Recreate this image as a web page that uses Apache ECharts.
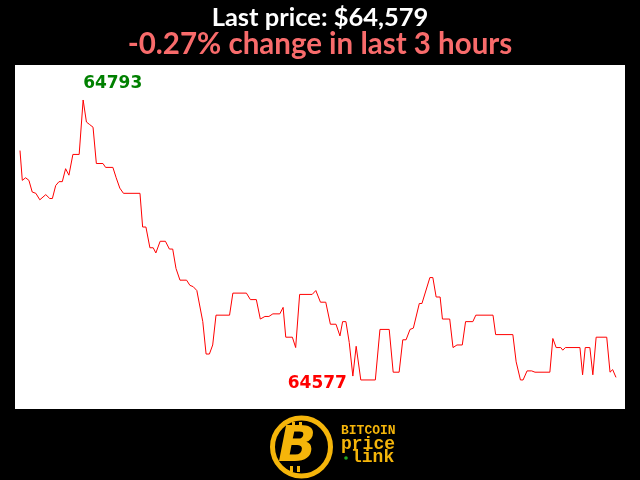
<!DOCTYPE html>
<html>
<head>
<meta charset="utf-8">
<script src="https://cdn.jsdelivr.net/npm/echarts@6/dist/echarts.min.js"></script>
<style>
html,body{margin:0;padding:0;background:#000;}
#chart{width:640px;height:480px;}
</style>
</head>
<body>
<div id="chart"></div>
<script>
// Minutes since start of the 3-hour window (vertices)
const minutes = [0,0.7,1.7,2.7,3.7,4.8,6.0,7.8,9.0,9.8,10.8,11.8,12.8,13.8,14.8,16.0,17.9,19.1,20.1,21.1,22.1,23.1,25.1,25.9,28.1,29.1,30.2,31.3,36.3,37.1,38.1,39.3,40.3,41.1,42.4,44.0,45.2,46.2,47.2,48.4,50.4,51.4,52.4,53.5,55.3,56.3,57.3,58.3,59.3,63.4,64.4,68.5,69.7,71.5,72.7,74.1,75.3,76.5,78.6,79.6,80.4,82.4,83.4,84.6,88.4,89.5,90.9,92.5,93.9,95.6,96.8,97.6,98.6,99.6,100.7,101.7,103.1,107.5,108.9,111.7,112.9,114.7,115.8,116.8,118.0,119.0,120.8,121.6,124.0,124.9,125.9,127.1,127.8,130.0,131.0,132.2,133.8,134.8,137.0,137.9,143.1,143.9,149.1,150.1,151.4,152.2,153.4,154.8,155.8,160.3,161.2,162.2,163.6,164.2,165.0,169.4,170.2,171.0,172.4,173.3,174.3,177.5,178.5,179.3,180.3];
const prices = [64754,64731,64733,64731,64722,64721,64716,64720,64717,64717,64727,64730,64730,64740,64735,64751,64751,64793,64776,64774,64772,64744,64744,64741,64741,64733,64725,64721,64721,64695,64695,64679,64679,64675,64684,64684,64678,64678,64663,64654,64654,64650,64649,64646,64622,64597,64597,64604,64627,64627,64644,64644,64639,64639,64624,64626,64626,64628,64628,64633,64610,64610,64602,64643,64643,64646,64637,64637,64620,64620,64611,64622,64622,64606,64580,64603,64577,64577,64616,64616,64583,64583,64608,64608,64616,64617,64636,64636,64656,64656,64641,64641,64624,64624,64602,64604,64604,64622,64622,64627,64627,64612,64612,64591,64577,64577,64584,64584,64583,64583,64609,64602,64602,64600,64602,64602,64581,64602,64602,64581,64610,64610,64583,64585,64579];

const titleLine1 = 'Last price: $64,579';
const titleLine2 = '-0.27% change in last 3 hours';
const logoLines = ['BITCOIN', 'price', 'link'];

const chart = echarts.init(document.getElementById('chart'));
const seriesData = minutes.map((m, i) => [m, prices[i]]);

chart.setOption({
  animation: false,
  backgroundColor: '#000',
  title: [
    {text: titleLine1, left: 'center', top: 0,
     textStyle: {color: '#fff', fontSize: 25.5, fontWeight: 'bold', fontFamily: 'Lato'}},
    {text: titleLine2, left: 'center', top: 24,
     textStyle: {color: '#f86b6b', fontSize: 29.5, fontWeight: 'bold', fontFamily: 'Lato'}}
  ],
  grid: {left: 15, top: 65, width: 610, height: 344, show: true,
         backgroundColor: '#fff', borderWidth: 0},
  xAxis: {type: 'value', min: -1.51, max: 183.03, show: false},
  yAxis: {type: 'value', min: 64554.6, max: 64820, show: false},
  series: [{
    type: 'line',
    data: seriesData,
    showSymbol: false,
    lineStyle: {color: '#ff0000', width: 1},
    markPoint: {
      symbol: 'circle', symbolSize: 1,
      itemStyle: {color: 'rgba(0,0,0,0)'},
      data: [
        {type: 'max', label: {show: true, position: 'inside', align: 'left', verticalAlign: 'middle',
          offset: [0, -16], color: '#008000', fontSize: 17, fontWeight: 'bold', fontFamily: 'DejaVu Sans',
          formatter: p => String(p.value)}},
        {type: 'min', label: {show: true, position: 'inside', align: 'left', verticalAlign: 'middle',
          offset: [-73, 4], color: '#ff0000', fontSize: 17, fontWeight: 'bold', fontFamily: 'DejaVu Sans',
          formatter: p => String(p.value)}}
      ]
    }
  }],
  graphic: [
    {type: 'circle', shape: {cx: 301.5, cy: 447, r: 29}, style: {fill: '#000', stroke: '#f5b50a', lineWidth: 5}},
    {type: 'rect', shape: {x: 292, y: 422, width: 3, height: 6}, style: {fill: '#f5b50a'}},
    {type: 'rect', shape: {x: 299, y: 422, width: 3, height: 6}, style: {fill: '#f5b50a'}},
    {type: 'rect', shape: {x: 290, y: 466, width: 3, height: 6}, style: {fill: '#f5b50a'}},
    {type: 'rect', shape: {x: 297, y: 466, width: 3, height: 6}, style: {fill: '#f5b50a'}},
    {type: 'text', left: 278, top: 423, style: {text: 'B', fill: '#f5b50a', font: 'italic bold 50px "DejaVu Sans"'}},
    {type: 'text', left: 341, top: 424, style: {text: logoLines[0], fill: '#f5b50a', font: 'bold 13px "Liberation Mono"'}},
    {type: 'text', left: 341, top: 435, style: {text: logoLines[1], fill: '#f5b50a', font: 'bold 18px "Liberation Mono"'}},
    {type: 'circle', shape: {cx: 346, cy: 458, r: 1.8}, style: {fill: '#22aa22'}},
    {type: 'text', left: 351, top: 448, style: {text: logoLines[2], fill: '#f5b50a', font: 'bold 18px "Liberation Mono"'}}
  ]
});
</script>
</body>
</html>
